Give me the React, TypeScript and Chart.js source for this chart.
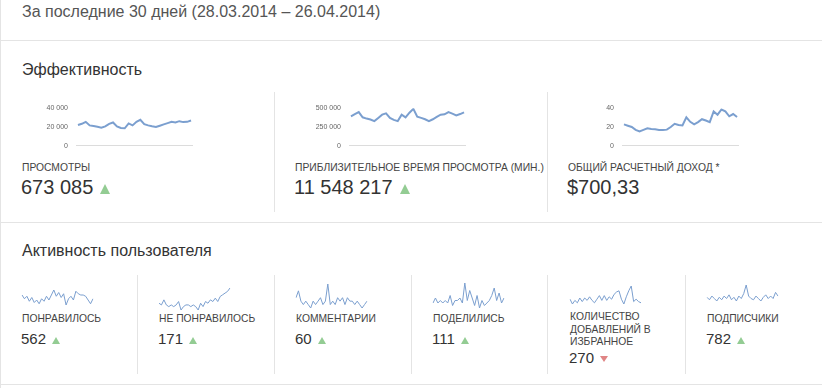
import React, { useEffect, useRef } from "react";
import { Chart, registerables } from "chart.js";

Chart.register(...registerables);

// ---------- data ----------
const DATES = [
  "28.03", "29.03", "30.03", "31.03", "01.04", "02.04", "03.04", "04.04", "05.04", "06.04",
  "07.04", "08.04", "09.04", "10.04", "11.04", "12.04", "13.04", "14.04", "15.04", "16.04",
  "17.04", "18.04", "19.04", "20.04", "21.04", "22.04", "23.04", "24.04", "25.04", "26.04",
];

const VIEWS = [
  22100, 23400, 25500, 21700, 21000, 20300, 19300, 20700, 23400, 24800,
  20700, 19000, 18600, 23800, 21700, 25500, 27600, 23100, 21700, 20700,
  20000, 21400, 22800, 24100, 25500, 24800, 26200, 25200, 25500, 26900,
];
const WATCH_MINUTES = [
  392000, 422000, 448000, 379000, 362000, 349000, 328000, 371000, 414000, 431000,
  371000, 345000, 328000, 414000, 379000, 440000, 491000, 388000, 371000, 353000,
  328000, 353000, 384000, 414000, 418000, 448000, 427000, 405000, 422000, 444000,
];
const REVENUE = [
  22.8, 21.4, 20.0, 16.9, 15.2, 16.9, 18.6, 17.9, 17.6, 16.9,
  16.9, 17.2, 20.0, 23.4, 22.1, 21.7, 30.3, 25.5, 22.8, 25.2,
  28.3, 26.9, 25.2, 36.6, 33.1, 38.6, 36.6, 31.4, 33.8, 30.7,
];

const VIEWS_TICKS = [0, 20000, 40000];
const WATCH_TICKS = [0, 250000, 500000];
const REVENUE_TICKS = [0, 20, 40];

const LIKES = [21, 18, 20, 16, 19, 15, 17, 14, 18, 16, 20, 17, 21, 25, 20, 23, 19, 22, 13, 18, 20, 17, 24, 22, 21, 21, 20, 17, 14, 18];
const DISLIKES = [5, 4, 7, 4, 3, 4, 3, 4, 6, 1, 3, 4, 4, 3, 4, 3, 1, 5, 3, 6, 5, 7, 6, 8, 6, 9, 10, 11, 12, 14];
const COMMENTS = [3, 5, 2, 1, 2, 1, 0, 2, 1, 2, 3, 1, 2, 7, 1, 2, 1, 3, 2, 3, 1, 3, 2, 2, 1, 2, 1, 0, 1, 2];
const SHARES = [2, 4, 2, 3, 2, 3, 2, 5, 1, 3, 3, 4, 2, 10, 3, 7, 4, 1, 5, 0, 3, 1, 2, 3, 5, 8, 3, 6, 2, 4];
const FAVORITES = [9, 5, 8, 6, 10, 7, 10, 8, 11, 8, 6, 9, 12, 8, 12, 8, 11, 9, 13, 15, 16, 9, 5, 11, 16, 20, 7, 9, 7, 6];
const SUBSCRIBERS = [26, 24, 27, 25, 23, 26, 24, 27, 25, 28, 24, 26, 23, 27, 25, 29, 36, 27, 25, 24, 27, 25, 23, 26, 28, 25, 27, 25, 30, 27];

// ---------- style ----------
const FONT = '"Liberation Sans", Arial, sans-serif';
const LINE_COLOR = "#7b9fcf";
const SEP = "#e4e4e4";
const GREEN = "#93cc93";
const RED = "#e08585";

const fmt = (v: number) => String(v).replace(/\B(?=(\d{3})+(?!\d))/g, " ");

function BigSpark({ values, ticks, left, top }: { values: number[]; ticks: number[]; left: number; top: number }) {
  const ref = useRef<HTMLCanvasElement>(null);
  useEffect(() => {
    const chart = new Chart(ref.current!, {
      type: "line",
      data: {
        labels: DATES,
        datasets: [{ data: values, borderColor: LINE_COLOR, borderWidth: 2, pointRadius: 0, tension: 0, fill: false }],
      },
      options: {
        animation: false,
        responsive: false,
        events: [],
        layout: { padding: 0 },
        plugins: { legend: { display: false }, tooltip: { enabled: false } },
        scales: {
          x: { display: false, offset: true },
          y: {
            min: ticks[0],
            max: ticks[ticks.length - 1],
            afterBuildTicks: (s: any) => {
              s.ticks = ticks.map((v) => ({ value: v }));
            },
            afterFit: (s: any) => {
              s.width = 54;
            },
            border: { display: false },
            grid: {
              drawTicks: false,
              color: (c: any) => (c.tick && c.tick.value === 0 ? "#dcdcdc" : "rgba(0,0,0,0)"),
              lineWidth: 1,
            },
            ticks: {
              padding: 8,
              color: "#666",
              font: { size: 7, family: FONT, lineHeight: 1.2 },
              callback: (v: any) => fmt(Number(v)),
            },
          },
        },
      },
    });
    return () => chart.destroy();
  }, []);
  return (
    <canvas
      ref={ref}
      width={171}
      height={62}
      style={{ position: "absolute", left, top, width: 171, height: 62 }}
    />
  );
}

function SmallSpark({ values, left, top, height }: { values: number[]; left: number; top: number; height: number }) {
  const ref = useRef<HTMLCanvasElement>(null);
  useEffect(() => {
    const chart = new Chart(ref.current!, {
      type: "line",
      data: {
        labels: DATES,
        datasets: [{ data: values, borderColor: LINE_COLOR, borderWidth: 1, pointRadius: 0, tension: 0, fill: false }],
      },
      options: {
        animation: false,
        responsive: false,
        events: [],
        layout: { padding: 2 },
        plugins: { legend: { display: false }, tooltip: { enabled: false } },
        scales: {
          x: { display: false, offset: false },
          y: { display: false, min: Math.min(...values), max: Math.max(...values) },
        },
      },
    });
    return () => chart.destroy();
  }, []);
  const w = 71 + 4;
  const h = height + 4;
  return (
    <canvas
      ref={ref}
      width={w}
      height={h}
      style={{ position: "absolute", left: left - 2, top: top - 2, width: w, height: h }}
    />
  );
}

function Tri({ up, w, h, gap, lift = 0 }: { up: boolean; w: number; h: number; gap: number; lift?: number }) {
  const style: any = {
    display: "inline-block",
    width: 0,
    height: 0,
    borderLeft: `${w / 2}px solid transparent`,
    borderRight: `${w / 2}px solid transparent`,
    marginLeft: gap,
    verticalAlign: lift ? `${lift}px` : "baseline",
  };
  if (up) style.borderBottom = `${h}px solid ${GREEN}`;
  else style.borderTop = `${h}px solid ${RED}`;
  return <span style={style} />;
}

const abs = (left: number, top: number, extra: any = {}) => ({ position: "absolute" as const, left, top, ...extra });

const TOP_CARDS = [
  { x: 0, label: "ПРОСМОТРЫ", total: "673 085", trend: "up", values: VIEWS, ticks: VIEWS_TICKS },
  { x: 273, label: "ПРИБЛИЗИТЕЛЬНОЕ ВРЕМЯ ПРОСМОТРА (МИН.)", total: "11 548 217", trend: "up", values: WATCH_MINUTES, ticks: WATCH_TICKS },
  { x: 546, label: "ОБЩИЙ РАСЧЕТНЫЙ ДОХОД *", total: "$700,33", trend: "", values: REVENUE, ticks: REVENUE_TICKS },
];

const BOTTOM_CARDS = [
  { x: 0, label: "ПОНРАВИЛОСЬ", total: "562", trend: "up", values: LIKES, sy: 290, sh: 15 },
  { x: 137, label: "НЕ ПОНРАВИЛОСЬ", total: "171", trend: "up", values: DISLIKES, sy: 288, sh: 22 },
  { x: 274, label: "КОММЕНТАРИИ", total: "60", trend: "up", values: COMMENTS, sy: 284, sh: 24 },
  { x: 411, label: "ПОДЕЛИЛИСЬ", total: "111", trend: "up", values: SHARES, sy: 283, sh: 25 },
  { x: 548, label: "КОЛИЧЕСТВО ДОБАВЛЕНИЙ В ИЗБРАННОЕ", total: "270", trend: "down", values: FAVORITES, sy: 286, sh: 18 },
  { x: 685, label: "ПОДПИСЧИКИ", total: "782", trend: "up", values: SUBSCRIBERS, sy: 285, sh: 16 },
];

export default function App() {
  const hLine = (y: number) => <div style={abs(0, y, { width: 822, height: 1, background: SEP })} />;
  const vLine = (x: number, y: number, h: number) => <div style={abs(x, y, { width: 1, height: h, background: SEP })} />;

  return (
    <div style={{ position: "absolute", left: 0, top: 0, width: 822, height: 388, background: "#fff", overflow: "hidden", fontFamily: FONT }}>
      {vLine(0, 0, 388)}
      <div style={abs(22, 4, { fontSize: 16, lineHeight: "16px", color: "#555", whiteSpace: "nowrap" })}>
        За последние 30 дней (28.03.2014 – 26.04.2014)
      </div>
      {hLine(40)}
      <div style={abs(22, 62, { fontSize: 16, lineHeight: "16px", color: "#333", whiteSpace: "nowrap" })}>Эффективность</div>
      {vLine(274, 92, 120)}
      {vLine(547, 92, 120)}
      {TOP_CARDS.map((c, i) => (
        <React.Fragment key={i}>
          <BigSpark values={c.values} ticks={c.ticks} left={c.x + 22} top={96} />
          <div style={abs(c.x + 22, 162.7, { fontSize: 10.3, lineHeight: "10px", color: "#444", whiteSpace: "nowrap" })}>{c.label}</div>
          <div style={abs(c.x + 21, 177, { fontSize: 20, lineHeight: "20px", color: "#333", whiteSpace: "nowrap" })}>
            {c.total}
            {c.trend === "up" && <Tri up w={11} h={10} gap={7} />}
          </div>
        </React.Fragment>
      ))}
      {hLine(222)}
      <div style={abs(22, 243, { fontSize: 16, lineHeight: "16px", color: "#333", whiteSpace: "nowrap" })}>Активность пользователя</div>
      {[137, 274, 411, 547, 685].map((x) => (
        <React.Fragment key={x}>{vLine(x, 275, 99)}</React.Fragment>
      ))}
      {BOTTOM_CARDS.map((c, i) => {
        const multi = c.label.length > 20;
        return (
          <React.Fragment key={i}>
            <SmallSpark values={c.values} left={c.x + 22} top={c.sy} height={c.sh} />
            <div
              style={abs(c.x + 22, multi ? 311.4 : 313.1, {
                width: 104,
                fontSize: 10.3,
                lineHeight: "12.3px",
                color: "#444",
              })}
            >
              {c.label}
            </div>
            <div style={abs(c.x + 21, multi ? 350.2 : 330.7, { fontSize: 15, lineHeight: "15px", color: "#333", whiteSpace: "nowrap" })}>
              {c.total}
              {c.trend === "up" && <Tri up w={8} h={7} gap={6} />}
              {c.trend === "down" && <Tri up={false} w={9} h={6} gap={6} lift={1.5} />}
            </div>
          </React.Fragment>
        );
      })}
      {hLine(384)}
    </div>
  );
}
